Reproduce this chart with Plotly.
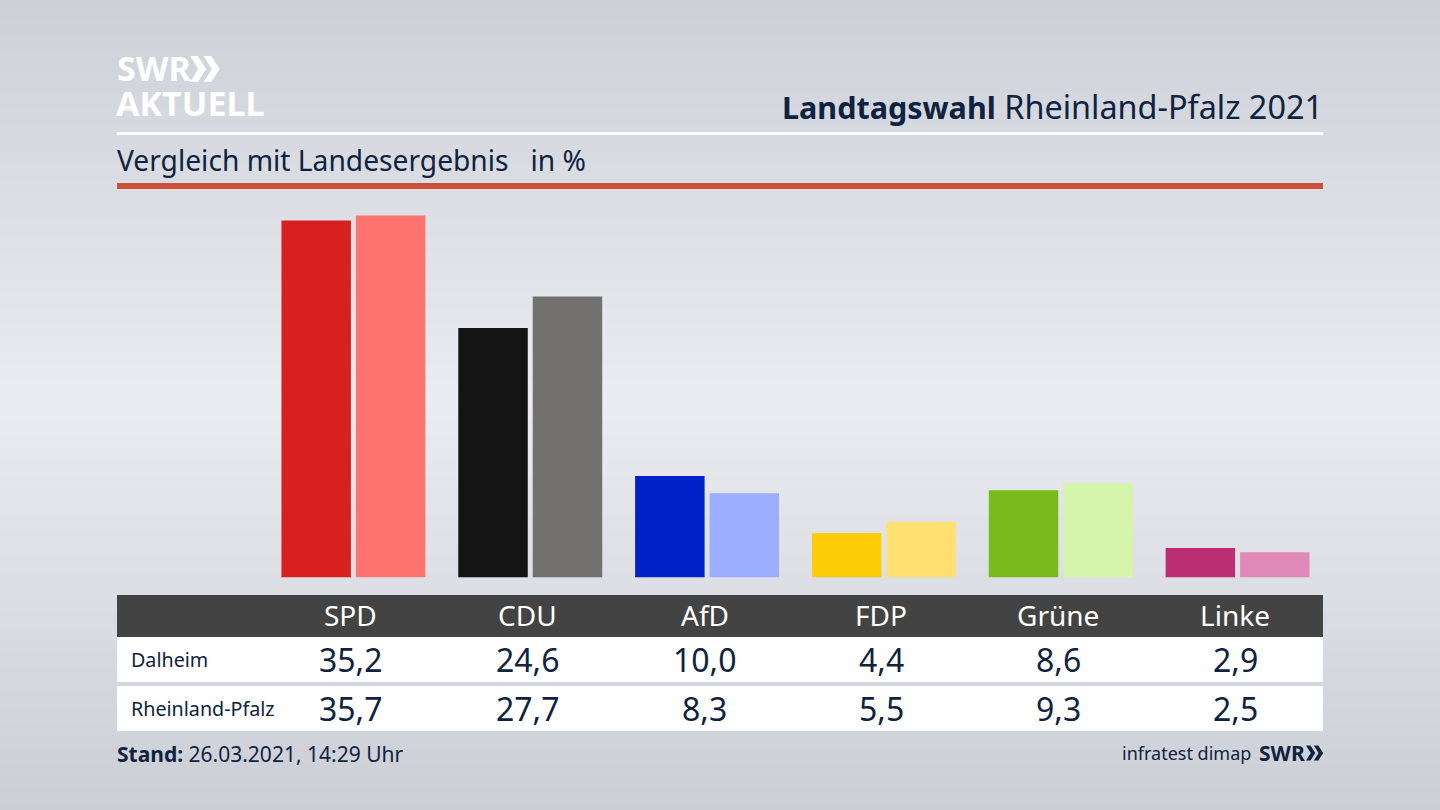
import base64, struct, zlib
import plotly.graph_objects as go

parties = ["SPD", "CDU", "AfD", "FDP", "Grüne", "Linke"]
dalheim = [35.2, 24.6, 10.0, 4.4, 8.6, 2.9]
rlp = [35.7, 27.7, 8.3, 5.5, 9.3, 2.5]
colors_dalheim = ["#d8201f", "#141414", "#0020c8", "#ffcc08", "#78bb1b", "#bc2e74"]
colors_rlp = ["#ff736e", "#73716f", "#9dadff", "#ffe070", "#d5f5aa", "#e08ab8"]
row_names = ["Dalheim", "Rheinland-Pfalz"]

W, H = 1440, 810
INK = "#0f2340"
FONT = "Noto Sans"
BASE, TOP = 577.5, 190
UNIT = 10.14


def px(x):
    return x / W


def py(y):
    return 1 - y / H


def background():
    stops = [(0, (205, 208, 215)), (400, (234, 236, 241)), (810, (203, 206, 213))]
    rows = b""
    for y in range(H):
        for (a, ca), (b, cb) in zip(stops, stops[1:]):
            if a <= y <= b:
                t = (y - a) / (b - a)
                rows += b"\0" + bytes(round(p + (q - p) * t) for p, q in zip(ca, cb))
                break

    def chunk(tag, data):
        body = tag + data
        return struct.pack(">I", len(data)) + body + struct.pack(">I", zlib.crc32(body))

    png = (b"\x89PNG\r\n\x1a\n" + chunk(b"IHDR", struct.pack(">IIBBBBB", 1, H, 8, 2, 0, 0, 0))
           + chunk(b"IDAT", zlib.compress(rows)) + chunk(b"IEND", b""))
    return "data:image/png;base64," + base64.b64encode(png).decode()


def rect(x0, y0, x1, y1, color):
    return dict(type="rect", xref="paper", yref="paper", x0=px(x0), x1=px(x1), y0=py(y0), y1=py(y1),
                fillcolor=color, line_width=0, layer="below")


def chevrons(x, y, h, color):
    """Double chevron of the SWR logo, left edge x, vertical centre y, height h."""
    w = h * 0.58
    t = h * 0.30
    path = ""
    for off in (0, w * 0.9):
        x0 = x + off
        path += (f"M{px(x0)},{py(y - h / 2)} L{px(x0 + t)},{py(y - h / 2)} L{px(x0 + t + w * 0.55)},{py(y)} "
                 f"L{px(x0 + t)},{py(y + h / 2)} L{px(x0)},{py(y + h / 2)} L{px(x0 + w * 0.55)},{py(y)} Z ")
    return dict(type="path", xref="paper", yref="paper", path=path, fillcolor=color, line_width=0)


def label(x, y, text, size, color=INK, anchor="left", shift=0):
    return dict(x=x, xref="x" if isinstance(x, str) else "paper", y=py(y), yref="paper", text=text,
                showarrow=False, xanchor=anchor, yanchor="middle", xshift=shift, borderpad=0, borderwidth=0,
                font=dict(family=FONT, size=size, color=color))


def comma(v):
    return f"{v:.1f}".replace(".", ",")


fig = go.Figure()
fig.add_bar(x=parties, y=dalheim, marker=dict(color=colors_dalheim, line_width=0), name=row_names[0])
fig.add_bar(x=parties, y=rlp, marker=dict(color=colors_rlp, line_width=0), name=row_names[1])

shapes = [
    rect(117, 132, 1323, 135, "#ffffff"),
    rect(117, 183, 1323, 189, "#cb5138"),
    rect(117, 595, 1323, 637, "#434343"),
    rect(117, 637, 1323, 682, "#ffffff"),
    rect(117, 686, 1323, 731, "#ffffff"),
    chevrons(190, 69, 26, "#ffffff"),
    chevrons(1306, 753, 15, INK),
]

annotations = [
    label(px(117), 68, "<b>SWR</b>", 34, "#ffffff"),
    label(px(116), 103, "<b>AKTUELL</b>", 34, "#ffffff"),
    label(px(1323), 106, "<span style='font-size:30.5px'><b>Landtagswahl</b></span> Rheinland-Pfalz 2021", 32.4, INK, "right"),
    label(px(117), 160, "Vergleich mit Landesergebnis&nbsp;&nbsp;&nbsp;in %", 28.2, INK),
    label(px(131), 659, row_names[0], 19.7),
    label(px(131), 708, row_names[1], 19.7),
    label(px(117), 754, "<b>Stand:</b> 26.03.2021, 14:29 Uhr", 21),
    label(px(1251), 753, "infratest dimap", 18, INK, "right"),
    label(px(1305), 753, "<b>SWR</b>", 21, INK, "right"),
]
for p, a, b in zip(parties, dalheim, rlp):
    annotations.append(label(p, 615, p, 28, "#ffffff", "center", -2.5))
    annotations.append(label(p, 659, comma(a), 32, INK, "center", -2.5))
    annotations.append(label(p, 708, comma(b), 32, INK, "center", -2.5))

fig.update_layout(
    width=W, height=H, autosize=False, margin=dict(l=0, r=0, t=0, b=0),
    paper_bgcolor="#dfe1e6", plot_bgcolor="rgba(0,0,0,0)", showlegend=False,
    barmode="group", bargap=0.158, bargroupgap=0.067,
    xaxis=dict(domain=[px(265), px(1326)], showticklabels=False, showgrid=False, zeroline=False,
               ticks="", fixedrange=True),
    yaxis=dict(domain=[py(BASE), py(TOP)], range=[0, (BASE - TOP) / UNIT], showticklabels=False,
               showgrid=False, zeroline=False, ticks="", fixedrange=True),
    images=[dict(source=background(), xref="paper", yref="paper", x=0, y=1, sizex=1, sizey=1,
                 sizing="stretch", xanchor="left", yanchor="top", layer="below")],
    shapes=shapes, annotations=annotations,
)
fig.write_html("out.html", config=dict(displayModeBar=False),
               post_script="document.body.style.margin='0';document.body.style.overflow='hidden';")
